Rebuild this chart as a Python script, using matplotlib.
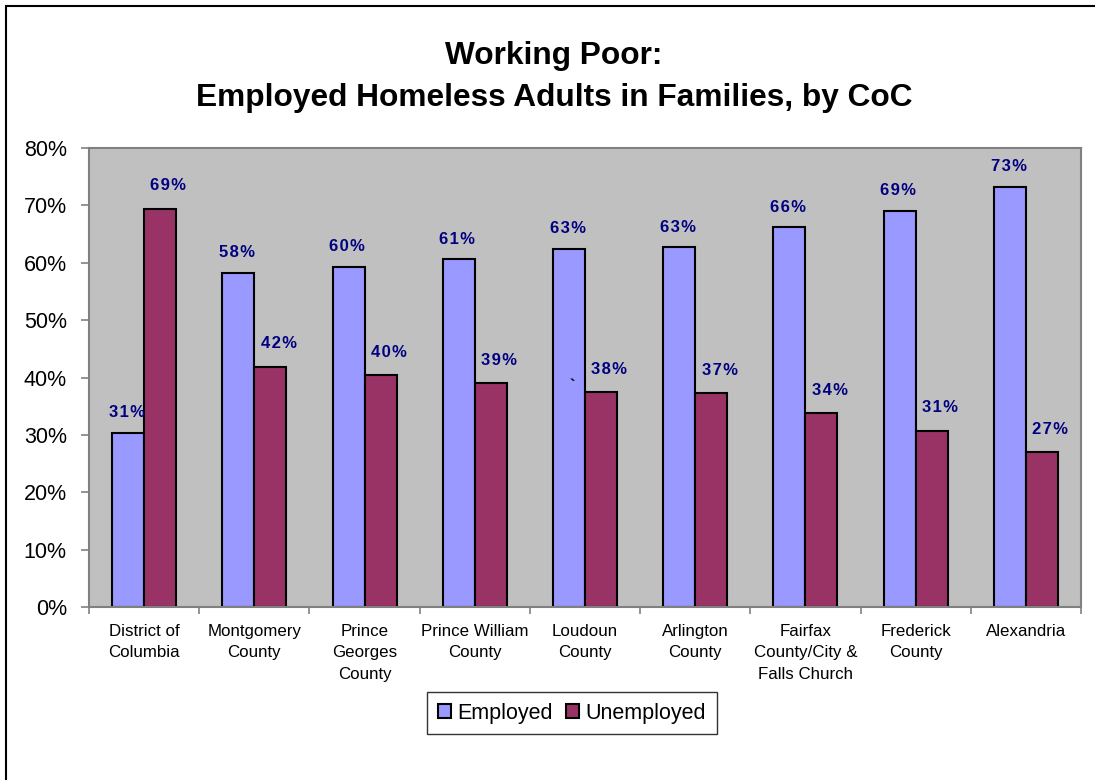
import matplotlib
matplotlib.use("Agg")
import matplotlib.pyplot as plt
from matplotlib.patches import Rectangle
import numpy as np

plt.rcParams['font.family'] = ['Liberation Sans', 'DejaVu Sans']

categories = ['District of\nColumbia', 'Montgomery\nCounty', 'Prince\nGeorges\nCounty',
              'Prince William\nCounty', 'Loudoun\nCounty', 'Arlington\nCounty',
              'Fairfax\nCounty/City &\nFalls Church', 'Frederick\nCounty', 'Alexandria']
employed = [30.4, 58.3, 59.3, 60.6, 62.4, 62.7, 66.2, 69.0, 73.2]
unemployed = [69.4, 41.9, 40.4, 39.0, 37.4, 37.3, 33.8, 30.7, 27.0]
employed_lbl = ['31%', '58%', '60%', '61%', '63%', '63%', '66%', '69%', '73%']
unemployed_lbl = ['69%', '42%', '40%', '39%', '38%', '37%', '34%', '31%', '27%']

def spaced(s):
    # excel draws these labels with loose letter spacing
    return '\u200a'.join(s)

fig = plt.figure(figsize=(10.95, 7.8), dpi=100)
ax = fig.add_axes([89/1095, 1-607/780, (1081-89)/1095, (607-148)/780])
ax.set_facecolor('#C0C0C0')

x = np.arange(len(categories))
w = 0.29
ax.bar(x - w/2, employed, w, color='#9999FF', edgecolor='black', linewidth=1.5, label='Employed')
ax.bar(x + w/2, unemployed, w, color='#993366', edgecolor='black', linewidth=1.5, label='Unemployed')

for xi, v, s in zip(x - w/2, employed, employed_lbl):
    ax.annotate(spaced(s), (xi, v), xytext=(-1, 14.5), textcoords='offset points', ha='center', va='center',
                fontsize=12, fontweight='bold', color='#000080')
for xi, v, s in zip(x + w/2, unemployed, unemployed_lbl):
    ax.annotate(spaced(s), (xi, v), xytext=(6, 16.5), textcoords='offset points', ha='center', va='center',
                fontsize=12, fontweight='bold', color='#000080')

# stray tick mark that sits in the Loudoun bar of the original
ax.text(4 - w/2 + 0.03, 38.5, '`', ha='center', va='center', fontsize=12, fontweight='bold')

ax.set_xlim(-0.5, len(categories) - 0.5)
ax.set_ylim(0, 80)
ax.set_yticks(range(0, 81, 10))
ax.set_yticklabels([f'{t}%' for t in range(0, 81, 10)], fontsize=15.5)
ax.set_xticks(x)
ax.set_xticklabels(categories, fontsize=12.2, linespacing=1.55)
ax.set_xticks(np.arange(-0.5, len(categories)), minor=True)
ax.tick_params(axis='x', which='major', length=0, pad=12)
ax.tick_params(axis='x', which='minor', length=5, width=1.2, color='#808080', direction='out')
ax.tick_params(axis='y', length=6, width=1.2, color='#808080', pad=10)

for side in ['top', 'right', 'left', 'bottom']:
    ax.spines[side].set_color('#808080')
    ax.spines[side].set_linewidth(1.5)

fig.text(554/1095, 1-56/780, 'Working Poor:', ha='center', va='center', fontsize=22.8, fontweight='bold')
fig.text(554/1095, 1-98/780, 'Employed Homeless Adults in Families, by CoC', ha='center', va='center',
         fontsize=22.8, fontweight='bold')

leg = ax.legend(loc='center', bbox_to_anchor=(572/1095, 1-713/780), bbox_transform=fig.transFigure,
                ncol=2, fontsize=15.5, frameon=True, fancybox=False, handlelength=0.6, handleheight=0.6,
                handletextpad=0.3, columnspacing=0.6, borderpad=0.5, borderaxespad=0)
leg.get_frame().set_edgecolor('black')
leg.get_frame().set_linewidth(1.0)

fig.patches.append(Rectangle((6/1095, -0.1), 1.2, 1-6/780 + 0.1, transform=fig.transFigure,
                             fill=False, edgecolor='black', linewidth=1.5))

fig.savefig('out.png', dpi=100)
